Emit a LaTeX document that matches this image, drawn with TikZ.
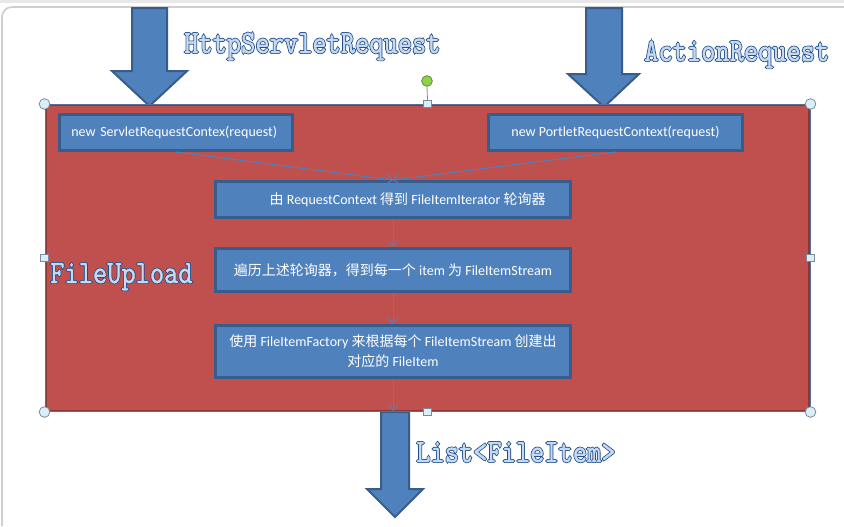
\documentclass[tikz,border=0pt]{standalone}
\usepackage{fontspec}
\setmainfont{Carlito}
\newfontfamily\cjk{Noto Sans CJK SC}
\newfontfamily\outl[FakeStretch=0.83,FakeBold=1]{lmmono10-regular.otf}
\newfontfamily\outlb[FakeStretch=0.83,FakeBold=6]{lmmono10-regular.otf}
\usetikzlibrary{arrows.meta}
\definecolor{boxfill}{HTML}{4F81BD}
\definecolor{boxline}{HTML}{385D8A}
\definecolor{redfill}{HTML}{C0504D}
\definecolor{redline}{HTML}{8C3836}
\definecolor{framebl}{HTML}{56709A}
\definecolor{odark}{HTML}{1F4E8C}
\definecolor{olight}{HTML}{C6D9F0}
\definecolor{hfill}{HTML}{D9EEF7}
\definecolor{hline}{HTML}{7A8C9C}
\definecolor{gfill}{HTML}{8ED14A}
\definecolor{gline}{HTML}{5E8C3A}
\definecolor{pagegray}{HTML}{CFCFCF}
\definecolor{topgray}{HTML}{E8E8E8}
\newcommand\otext[1]{\makebox[0pt][l]{\color{odark}\outlb #1}{\color{olight}\outl #1}}
\begin{document}
\begin{tikzpicture}[x=0.75pt,y=-0.75pt,
  bigarrow/.style={fill=boxfill,draw=boxline,line width=1.5pt,line join=miter},
  frame/.style={draw=framebl,fill=redfill,line width=1.5pt,inner sep=0pt,minimum width=573pt,minimum height=229.5pt},
  stepbox/.style={draw=boxline,fill=boxfill,line width=2pt,text=white,inner sep=0pt,
     font=\fontsize{10.5}{15}\selectfont,minimum height=27.2pt},
  conn/.style={draw=boxfill,line width=0.75pt,-{Straight Barb[length=4pt,width=7.5pt]}},
  otxt/.style={inner sep=0pt,font=\fontsize{24.5}{29}\selectfont},
  hcirc/.style={circle,fill=hfill,draw=hline,line width=0.6pt,inner sep=0pt,minimum size=8pt},
  hsq/.style={rectangle,fill=hfill,draw=hline,line width=0.6pt,inner sep=0pt,minimum size=5.5pt},
  gcirc/.style={circle,fill=gfill,draw=gline,line width=0.6pt,inner sep=0pt,minimum size=8pt}]
\useasboundingbox (0,0) rectangle (844,526);
\fill[white] (0,0) rectangle (844,526);
\fill[topgray] (0,0) rectangle (844,2.5);
\draw[pagegray,line width=1.3pt,rounded corners=7.5pt] (2,526) -- (2,7) -- (844,7);

% big arrows
\filldraw[bigarrow] (132,8) -- (167,8) -- (167,71) -- (187,71) -- (149.5,106) -- (112,71) -- (132,71) -- cycle;
\filldraw[bigarrow] (586,8) -- (622,8) -- (622,74) -- (639,74) -- (604,107) -- (568,74) -- (586,74) -- cycle;
\filldraw[bigarrow] (381,412) -- (409,412) -- (409,489) -- (423,489) -- (395,517) -- (367,489) -- (381,489) -- cycle;

% frame
\node[frame] (fu) at (427.5,258) {};
\draw[redline,line width=0.9pt] ([shift={(1.6,1.6)}]fu.north west) rectangle ([shift={(-1.6,-1.6)}]fu.south east);

% boxes
\node[stepbox,text width=157pt,inner xsep=9pt,align=left] (b1) at (176,132.5) {new ServletRequestContex(request)};
\node[stepbox,minimum width=190.5pt] (b2) at (615.5,132.5) {new PortletRequestContext(request)};
\node[stepbox,minimum width=266pt] (b3) at (393,199.5) {\hspace*{22pt}{\cjk 由} RequestContext {\cjk 得到} FileItemIterator {\cjk 轮询器}};
\node[stepbox,minimum width=266pt,minimum height=32.5pt] (b4) at (393,270) {{\cjk 遍历上述轮询器，得到每一个} item {\cjk 为} FileItemStream};
\node[stepbox,minimum width=266pt,minimum height=39.2pt,align=center] (b5) at (393,351.5) {{\cjk 使用} FileItemFactory {\cjk 来根据每个} FileItemStream {\cjk 创建出}\\{\cjk 对应的} FileItem};

\coordinate (bt) at (393,411);
\draw[conn] (b1.south) -- (b3.north);
\draw[conn] (b2.south) -- (b3.north);
\draw[conn] (b3) -- (b4);
\draw[conn] (b4) -- (b5);
\draw[conn] (b5) -- (bt);

% outlined texts
\node[otxt,anchor=base west] (t1) at (184,53) {\otext{HttpServletRequest}};
\node[otxt,anchor=base west] (t2) at (644,61) {\otext{ActionRequest}};
\node[otxt,anchor=base west] (t3) at (50,283) {\otext{FileUpload}};
\node[otxt,anchor=base west] (t4) at (416,462) {\otext{List<FileItem>}};

% selection handles
\node[gcirc] (rot) at (427,81) {};
\node[hsq] (hn) at (fu.north) {};
\draw[hline,line width=0.6pt] (rot.south) -- (hn.north);
\node[hsq] (hs) at (fu.south) {};
\node[hsq] (hw) at (fu.west) {};
\node[hsq] (he) at (fu.east) {};
\node[hcirc] (hnw) at (fu.north west) {};
\node[hcirc] (hne) at (fu.north east) {};
\node[hcirc] (hsw) at (fu.south west) {};
\node[hcirc] (hse) at (fu.south east) {};
\end{tikzpicture}
\end{document}
